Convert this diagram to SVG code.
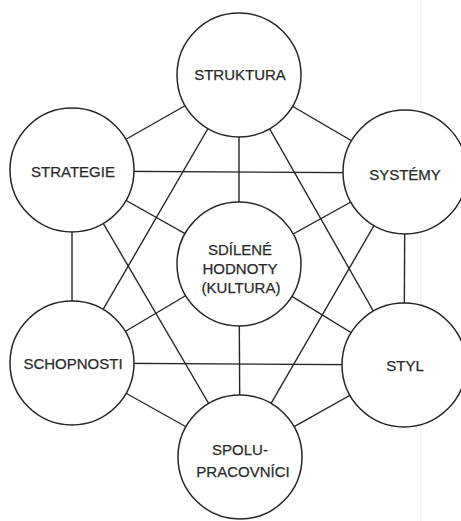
<svg xmlns="http://www.w3.org/2000/svg" width="461" height="521" viewBox="0 0 461 521">
<style>
.bg{fill:#ffffff}
.c{fill:#ffffff;stroke:#262626;stroke-width:1.5}
.l{stroke:#262626;stroke-width:1.4;fill:none}
.t{font-family:"Liberation Sans",Arial,sans-serif;font-size:15px;fill:#2a2a2a;stroke:#2a2a2a;stroke-width:0.25;text-anchor:middle}
</style>
<rect class="bg" x="0" y="0" width="461" height="521"/>
<line x1="421" y1="0" x2="421" y2="521" stroke="#ececec" stroke-width="1"/>
<g id="connectors">
<line class="l" x1="239" y1="75" x2="72" y2="170"/>
<line class="l" x1="239" y1="75" x2="405" y2="172"/>
<line class="l" x1="239" y1="75" x2="239" y2="264"/>
<line class="l" x1="239" y1="75" x2="72" y2="363"/>
<line class="l" x1="239" y1="75" x2="404" y2="365"/>
<line class="l" x1="72" y1="171" x2="405" y2="173"/>
<line class="l" x1="72" y1="170" x2="239" y2="264"/>
<line class="l" x1="72" y1="170" x2="72" y2="363"/>
<line class="l" x1="72" y1="170" x2="240" y2="457"/>
<line class="l" x1="405" y1="172" x2="239" y2="264"/>
<line class="l" x1="405" y1="172" x2="404" y2="365"/>
<line class="l" x1="405" y1="172" x2="240" y2="457"/>
<line class="l" x1="72" y1="363" x2="239" y2="264"/>
<line class="l" x1="72" y1="363" x2="404" y2="365"/>
<line class="l" x1="72" y1="363" x2="240" y2="457"/>
<line class="l" x1="404" y1="365" x2="239" y2="264"/>
<line class="l" x1="404" y1="365" x2="240" y2="457"/>
<line class="l" x1="239" y1="264" x2="240" y2="457"/>
</g>
<g id="struktura"><circle class="c" cx="239" cy="75" r="62"/><text class="t" x="240" y="80">STRUKTURA</text></g>
<g id="strategie"><circle class="c" cx="72" cy="170" r="62"/><text class="t" x="73" y="177">STRATEGIE</text></g>
<g id="systemy"><circle class="c" cx="405" cy="172" r="62"/><text class="t" x="405" y="180">SYSTÉMY</text></g>
<g id="sdilene-hodnoty"><circle class="c" cx="239" cy="264" r="62"/><text class="t" x="240" y="255">SDÍLENÉ</text><text class="t" x="240" y="274">HODNOTY</text><text class="t" x="241" y="293">(KULTURA)</text></g>
<g id="schopnosti"><circle class="c" cx="72" cy="363" r="62"/><text class="t" x="73" y="369">SCHOPNOSTI</text></g>
<g id="styl"><circle class="c" cx="404" cy="365" r="62"/><text class="t" x="405" y="371">STYL</text></g>
<g id="spolupracovnici"><circle class="c" cx="240" cy="457" r="62"/><text class="t" x="240" y="455">SPOLU-</text><text class="t" x="243" y="477">PRACOVNÍCI</text></g>
</svg>
